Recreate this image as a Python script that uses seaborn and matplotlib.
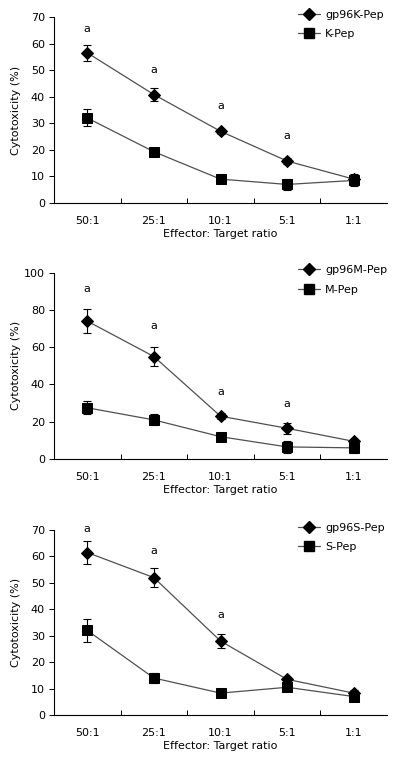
import numpy as np
import pandas as pd
import matplotlib
matplotlib.use("Agg")
import matplotlib.pyplot as plt
import seaborn as sns
from matplotlib.ticker import FixedLocator

ratios = ["50:1", "25:1", "10:1", "5:1", "1:1"]

# panel 1
k_gp96 = [56.5, 40.8, 27.0, 15.8, 9.0]
k_gp96_err = [3.0, 2.5, 1.0, 1.0, 2.0]
k_pep = [32.0, 19.3, 9.0, 7.0, 8.5]
k_pep_err = [3.2, 1.5, 1.5, 2.0, 2.0]
k_sig_y = [65.5, 50.0, 36.5, 25.2]

# panel 2
m_gp96 = [74.0, 55.0, 23.0, 16.5, 9.5]
m_gp96_err = [6.5, 5.0, 1.5, 3.0, 1.0]
m_pep = [27.5, 21.0, 12.0, 6.5, 6.0]
m_pep_err = [3.5, 3.0, 2.0, 3.0, 3.0]
m_sig_y = [91.0, 71.5, 35.8, 29.5]

# panel 3
s_gp96 = [61.5, 52.0, 28.0, 13.5, 8.3]
s_gp96_err = [4.3, 3.5, 2.5, 1.0, 1.0]
s_pep = [32.0, 14.0, 8.3, 10.5, 7.0]
s_pep_err = [4.5, 2.0, 1.5, 1.0, 1.0]
s_sig_y = [70.5, 62.0, 37.8]

panels = [
    ("gp96K-Pep", k_gp96, k_gp96_err, "K-Pep", k_pep, k_pep_err, k_sig_y, 70, 10,
     [0.135, 0.7332, 0.8325, 0.2445]),
    ("gp96M-Pep", m_gp96, m_gp96_err, "M-Pep", m_pep, m_pep_err, m_sig_y, 100, 20,
     [0.135, 0.3968, 0.8325, 0.2449]),
    ("gp96S-Pep", s_gp96, s_gp96_err, "S-Pep", s_pep, s_pep_err, s_sig_y, 70, 10,
     [0.135, 0.0604, 0.8325, 0.2431]),
]

sns.set_theme(style="ticks")
plt.rcParams["font.family"] = ["DejaVu Sans"]
plt.rcParams["text.color"] = "black"
plt.rcParams["axes.labelcolor"] = "black"
plt.rcParams["xtick.color"] = "black"
plt.rcParams["ytick.color"] = "black"
FS = 8
LINE = "#505050"

fig = plt.figure(figsize=(4.0, 7.61), dpi=100)

for name1, v1, e1, name2, v2, e2, sig, ymax, ystep, pos in panels:
    ax = fig.add_axes(pos)
    df = pd.DataFrame({
        "x": list(range(len(ratios))) * 2,
        "y": v1 + v2,
        "group": [name1] * len(ratios) + [name2] * len(ratios),
    })
    sns.lineplot(data=df, x="x", y="y", style="group", markers={name1: "D", name2: "s"},
                 dashes=False, color=LINE, linewidth=0.9, markersize=6.5,
                 markerfacecolor="black", markeredgecolor="black", ax=ax, legend=False)
    ax.errorbar(range(len(ratios)), v1, yerr=e1, fmt="none", ecolor="black",
                elinewidth=0.8, capsize=3, capthick=0.8, zorder=1)
    ax.errorbar(range(len(ratios)), v2, yerr=e2, fmt="none", ecolor="black",
                elinewidth=0.8, capsize=3, capthick=0.8, zorder=1)
    for i, yv in enumerate(sig):
        ax.text(i, yv, "a", ha="center", va="center", fontsize=FS)

    ax.set_xlim(-0.5, len(ratios) - 0.5)
    ax.set_ylim(0, ymax)
    ax.set_yticks(np.arange(0, ymax + 1, ystep))
    ax.set_xticks(range(len(ratios)))
    ax.set_xticklabels(ratios)
    ax.xaxis.set_minor_locator(FixedLocator([i + 0.5 for i in range(len(ratios) - 1)]))
    ax.tick_params(axis="x", which="major", length=0, labelsize=FS, pad=9)
    ax.tick_params(axis="x", which="minor", length=3.5, direction="in", width=0.7)
    ax.tick_params(axis="y", length=3.5, width=0.7, labelsize=FS, pad=3)
    for s in ("top", "right"):
        ax.spines[s].set_visible(False)
    for s in ("left", "bottom"):
        ax.spines[s].set_linewidth(0.8)
        ax.spines[s].set_color("black")
    ax.set_xlabel("Effector: Target ratio", fontsize=FS)
    ax.set_ylabel("Cytotoxicity (%)", fontsize=FS)
    ax.xaxis.set_label_coords(0.5, -0.14)
    ax.yaxis.set_label_coords(-0.10, 0.5)

    h1 = plt.Line2D([], [], color=LINE, lw=0.9, marker="D", markersize=6.5,
                    markerfacecolor="black", markeredgecolor="black")
    h2 = plt.Line2D([], [], color=LINE, lw=0.9, marker="s", markersize=6.5,
                    markerfacecolor="black", markeredgecolor="black")
    ax.legend([h1, h2], [name1, name2], loc="upper left", bbox_to_anchor=(0.733, 1.04),
              frameon=False, fontsize=FS, handlelength=2.0, handletextpad=0.45,
              labelspacing=0.85, borderpad=0, borderaxespad=0)

fig.savefig("out.png", dpi=100)
